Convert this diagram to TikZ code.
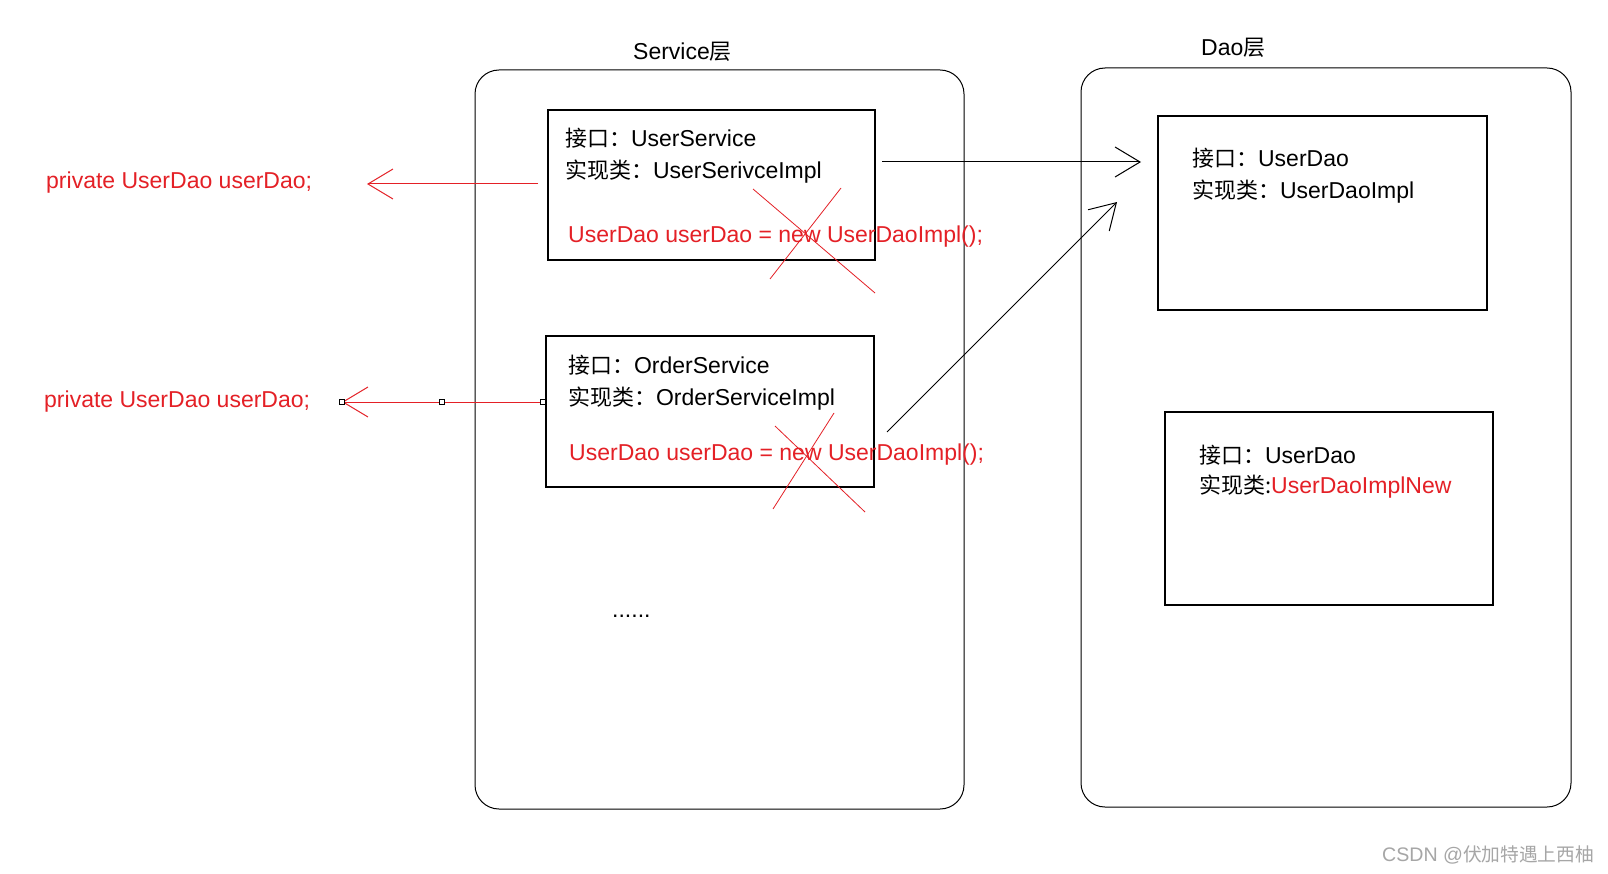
\documentclass[tikz,border=0pt]{standalone}
\usepackage{fontspec}
\setmainfont{Liberation Sans}
\newfontfamily\cjk[Scale=0.955]{Noto Sans CJK SC}
\usetikzlibrary{arrows.meta}
\definecolor{codered}{RGB}{228,32,38}
\definecolor{wmgray}{RGB}{166,166,166}
\begin{document}
\begin{tikzpicture}[x=1pt,y=-1pt,
  outerbox/.style={draw=black,line width=1pt,rounded corners=24pt,inner sep=0pt,outer sep=0pt,anchor=north west},
  innerbox/.style={draw=black,line width=1.2pt,inner sep=0pt,outer sep=0pt,anchor=north west},
  txt/.style={anchor=base west,inner sep=0pt,font=\fontsize{23}{27}\selectfont},
  redtxt/.style={txt,text=codered},
  redline/.style={draw=codered,line width=1pt},
  blackline/.style={draw=black,line width=1pt},
  barb/.style={-{Straight Barb[length=25pt,width=30pt,line width=1pt]}},
  handle/.style={draw=black,fill=white,line width=0.8pt,minimum size=5pt,inner sep=0pt}
]
\useasboundingbox (0,0) rectangle (1608,874);
\fill[white] (0,0) rectangle (1608,874);

% titles
\node[txt] (svctitle) at (633,60) {Service{\cjk 层}};
\node[txt] (daotitle) at (1201,56) {Dao{\cjk 层}};

% outer layers
\node[outerbox,minimum width=489pt,minimum height=739pt] (svc) at (475,70) {};
\node[outerbox,minimum width=490pt,minimum height=739pt] (dao) at (1081,68) {};

% service boxes
\node[innerbox,minimum width=327pt,minimum height=150pt] (us) at (548,110) {};
\node[innerbox,minimum width=328pt,minimum height=151pt] (os) at (546,336) {};
% dao boxes
\node[innerbox,minimum width=329pt,minimum height=194pt] (ud) at (1158,116) {};
\node[innerbox,minimum width=328pt,minimum height=193pt] (ud2) at (1165,412) {};

% texts in UserService box
\node[txt] (us1) at (565,147) {{\cjk 接口：}UserService};
\node[txt] (us2) at (565,179) {{\cjk 实现类：}UserSerivceImpl};
\node[redtxt] (us3) at (568,243) {UserDao userDao = new UserDaoImpl();};

% texts in OrderService box
\node[txt] (os1) at (568,373) {{\cjk 接口：}OrderService};
\node[txt] (os2) at (568,405) {{\cjk 实现类：}OrderServiceImpl};
\node[redtxt] (os3) at (569,460) {UserDao userDao = new UserDaoImpl();};

% texts in Dao boxes
\node[txt] (ud1) at (1192,167) {{\cjk 接口：}UserDao};
\node[txt] (ud2a) at (1192,199) {{\cjk 实现类：}UserDaoImpl};
\node[txt] (udb1) at (1199,463) {{\cjk 接口：}UserDao};
\node[txt] (udb2) at (1199,493) {{\cjk 实现类:}\textcolor{codered}{UserDaoImplNew}};

% dots
\node[txt] (dots) at (612,617) {......};

% left red texts
\node[redtxt] (pv1) at (46,189) {private UserDao userDao;};
\node[redtxt] (pv2) at (44,407) {private UserDao userDao;};

% crosses
\coordinate (c1a) at (753,189); \coordinate (c1b) at (875,293);
\coordinate (c1c) at (841,188); \coordinate (c1d) at (770,279);
\coordinate (c2a) at (775,426); \coordinate (c2b) at (865,512);
\coordinate (c2c) at (834,413); \coordinate (c2d) at (773,509);
\draw[draw=codered,line width=0.8pt] (c1a) -- (c1b);
\draw[draw=codered,line width=0.8pt] (c1c) -- (c1d);
\draw[draw=codered,line width=0.8pt] (c2a) -- (c2b);
\draw[draw=codered,line width=0.8pt] (c2c) -- (c2d);

% red arrows
\coordinate (r1s) at (538,184); \coordinate (r1e) at (367,184);
\draw[redline,barb] (r1s) -- (r1e);
\coordinate (r2s) at (543,402); \coordinate (r2m) at (442,402); \coordinate (r2e) at (342,402);
\draw[redline,barb] (r2s) -- (r2e);
\node[handle] (h1) at (r2e) {};
\node[handle] (h2) at (r2m) {};
\node[handle] (h3) at (r2s) {};

% black arrows
\coordinate (b1s) at (882,162); \coordinate (b1e) at (1141,162);
\draw[blackline,barb] (b1s) -- (b1e);
\coordinate (b2s) at (887,432); \coordinate (b2e) at (1117,202);
\draw[blackline,barb] (b2s) -- (b2e);

% watermark
\node[anchor=base west,inner sep=0pt,text=wmgray,font=\fontsize{19.6}{23}\selectfont] (wm) at (1382,861) {CSDN @{\cjk 伏加特遇上西柚}};
\end{tikzpicture}
\end{document}
